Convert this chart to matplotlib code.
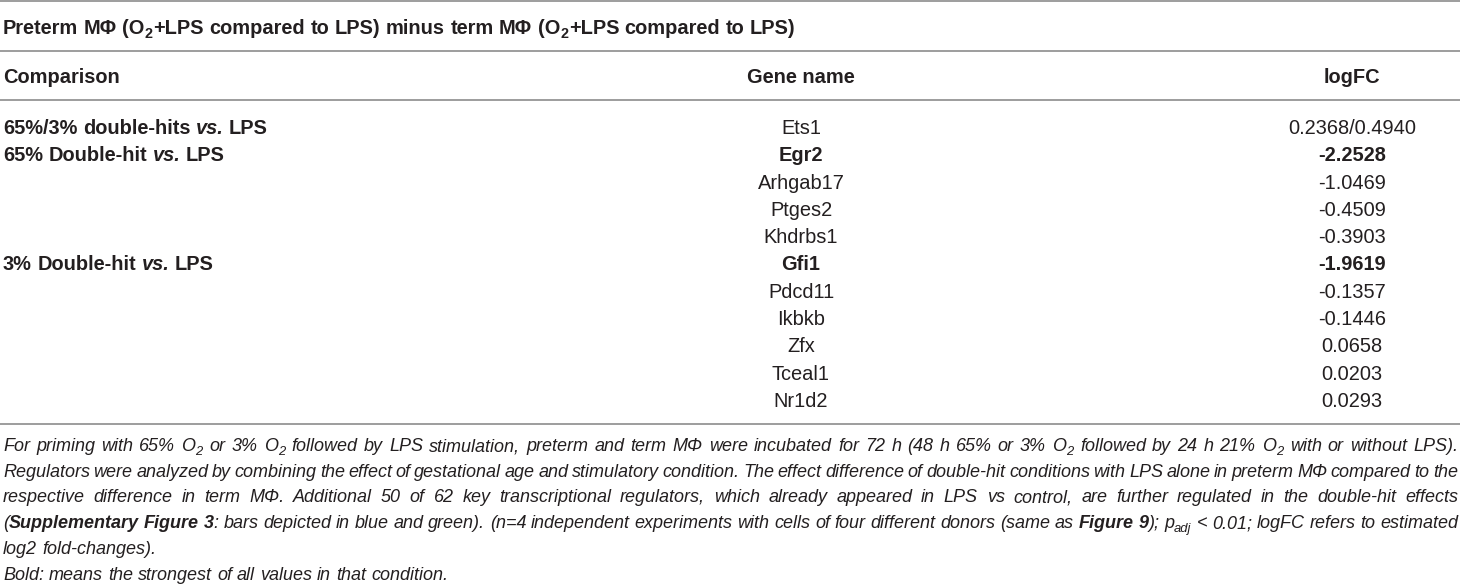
import matplotlib
matplotlib.use("Agg")
import matplotlib.pyplot as plt

W, H = 1460, 585
FAMILY = ["Liberation Sans", "DejaVu Sans"]
TEXT_COLOR = "#231f20"
RULE_COLOR = "#9d9d9d"
BODY_SIZE = 14.4  # pt, about 20 px
NOTE_SIZE = 13.0

# Table content. Markup: ** toggles bold, ~ toggles italic, _{..} is a subscript
title = "Preterm MΦ (O_{2}+LPS compared to LPS) minus term MΦ (O_{2}+LPS compared to LPS)"
headers = ["Comparison", "Gene name", "logFC"]
comparison = [
    "65%/3% double-hits ~vs.~ LPS",
    "65% Double-hit ~vs.~ LPS", "", "", "",
    "3% Double-hit ~vs.~ LPS", "", "", "", "", "",
]
genes = ["Ets1", "Egr2", "Arhgab17", "Ptges2", "Khdrbs1", "Gfi1",
         "Pdcd11", "Ikbkb", "Zfx", "Tceal1", "Nr1d2"]
logfc = ["0.2368/0.4940", "-2.2528", "-1.0469", "-0.4509", "-0.3903", "-1.9619",
         "-0.1357", "-0.1446", "0.0658", "0.0203", "0.0293"]
strongest = [False, True, False, False, False, True,
             False, False, False, False, False]

footnote = [
    "For priming with 65% O_{2} or 3% O_{2} followed by LPS stimulation, preterm and term MΦ "
    "were incubated for 72 h (48 h 65% or 3% O_{2} followed by 24 h 21% O_{2} with or without LPS).",
    "Regulators were analyzed by combining the effect of gestational age and stimulatory condition. "
    "The effect difference of double-hit conditions with LPS alone in preterm MΦ compared to the",
    "respective difference in term MΦ. Additional 50 of 62 key transcriptional regulators, which "
    "already appeared in LPS vs control, are further regulated in the double-hit effects",
    "(**Supplementary Figure 3**: bars depicted in blue and green). (n=4 independent experiments "
    "with cells of four different donors (same as **Figure 9**); p_{adj} < 0.01; logFC refers to estimated",
    "log2 fold-changes).",
    "Bold: means the strongest of all values in that condition.",
]
justified = [True, True, True, True, False, False]

fig = plt.figure(figsize=(W / 100, H / 100), dpi=100)
ax = fig.add_axes([0, 0, 1, 1])
ax.set_xlim(0, W)
ax.set_ylim(H, 0)
ax.axis("off")
renderer = fig.canvas.get_renderer()


def parse(markup, bold=False, italic=False):
    """Split markup into runs of (text, bold, italic, subscript)."""
    runs, buf, i = [], "", 0
    while i < len(markup):
        if markup.startswith("**", i):
            if buf:
                runs.append((buf, bold, italic, False))
                buf = ""
            bold = not bold
            i += 2
        elif markup[i] == "~":
            if buf:
                runs.append((buf, bold, italic, False))
                buf = ""
            italic = not italic
            i += 1
        elif markup.startswith("_{", i):
            if buf:
                runs.append((buf, bold, italic, False))
                buf = ""
            j = markup.index("}", i)
            runs.append((markup[i + 2:j], bold, italic, True))
            i = j + 1
        else:
            buf += markup[i]
            i += 1
    if buf:
        runs.append((buf, bold, italic, False))
    return runs


def split_words(runs):
    words = [[]]
    for text, b, it, sub in runs:
        for k, part in enumerate(text.split(" ")):
            if k > 0:
                words.append([])
            if part:
                words[-1].append((part, b, it, sub))
    return [w for w in words if w]


def put(x, y, s, size, bold=False, italic=False, **kw):
    return ax.text(x, y, s, fontsize=size, family=FAMILY, color=TEXT_COLOR,
                   fontweight="bold" if bold else "normal",
                   fontstyle="italic" if italic else "normal",
                   va="baseline", **kw)


def draw_word(x, y, word, size, dry=False):
    x0 = x
    for text, b, it, sub in word:
        fs = size * 0.72 if sub else size
        dy = size * 100 / 72 * 0.2 if sub else 0
        t = put(x, y + dy, text, fs, b, it, ha="left")
        x += t.get_window_extent(renderer).width + (0.6 if sub else 0)
        if dry:
            t.remove()
    return x - x0


def text_width(s, size, bold=False, italic=False):
    t = put(0, 0, s, size, bold, italic)
    w = t.get_window_extent(renderer).width
    t.remove()
    return w


def draw_line(x, y, markup, size, width=None, bold=False, italic=False):
    words = split_words(parse(markup, bold, italic))
    while True:
        widths = [draw_word(0, 0, w, size, dry=True) for w in words]
        space = (text_width("x x", size, bold, italic)
                 - text_width("xx", size, bold, italic))
        gap = space
        if width is not None and len(words) > 1:
            gap = (width - sum(widths)) / (len(words) - 1)
            if gap < 0.45 * space:
                size *= 0.99
                continue
        break
    for w, wd in zip(words, widths):
        draw_word(x, y, w, size)
        x += wd + gap


# rules
for yr in [1, 51, 100, 424]:
    ax.plot([0, W], [yr, yr], color=RULE_COLOR, lw=1.4, solid_capstyle="butt")

# title and header
draw_line(3, 34, title, BODY_SIZE, bold=True)
col_x = [3, 801, 1352]
put(col_x[0], 83, headers[0], BODY_SIZE, bold=True, ha="left")
put(col_x[1], 83, headers[1], BODY_SIZE, bold=True, ha="center")
put(col_x[2], 83, headers[2], BODY_SIZE, bold=True, ha="center")

# body rows
row_y0, row_step = 134, 27.3
for i in range(len(genes)):
    y = row_y0 + i * row_step
    if comparison[i]:
        draw_line(col_x[0], y, comparison[i], BODY_SIZE, bold=True)
    put(col_x[1], y, genes[i], BODY_SIZE, bold=strongest[i], ha="center")
    put(col_x[2], y, logfc[i], BODY_SIZE, bold=strongest[i], ha="center")

# footnote
note_y0, note_step = 451, 25.7
for i, line in enumerate(footnote):
    draw_line(3, note_y0 + i * note_step, line, NOTE_SIZE,
              width=1455 if justified[i] else None, italic=True)

fig.savefig("out.png", dpi=100)
